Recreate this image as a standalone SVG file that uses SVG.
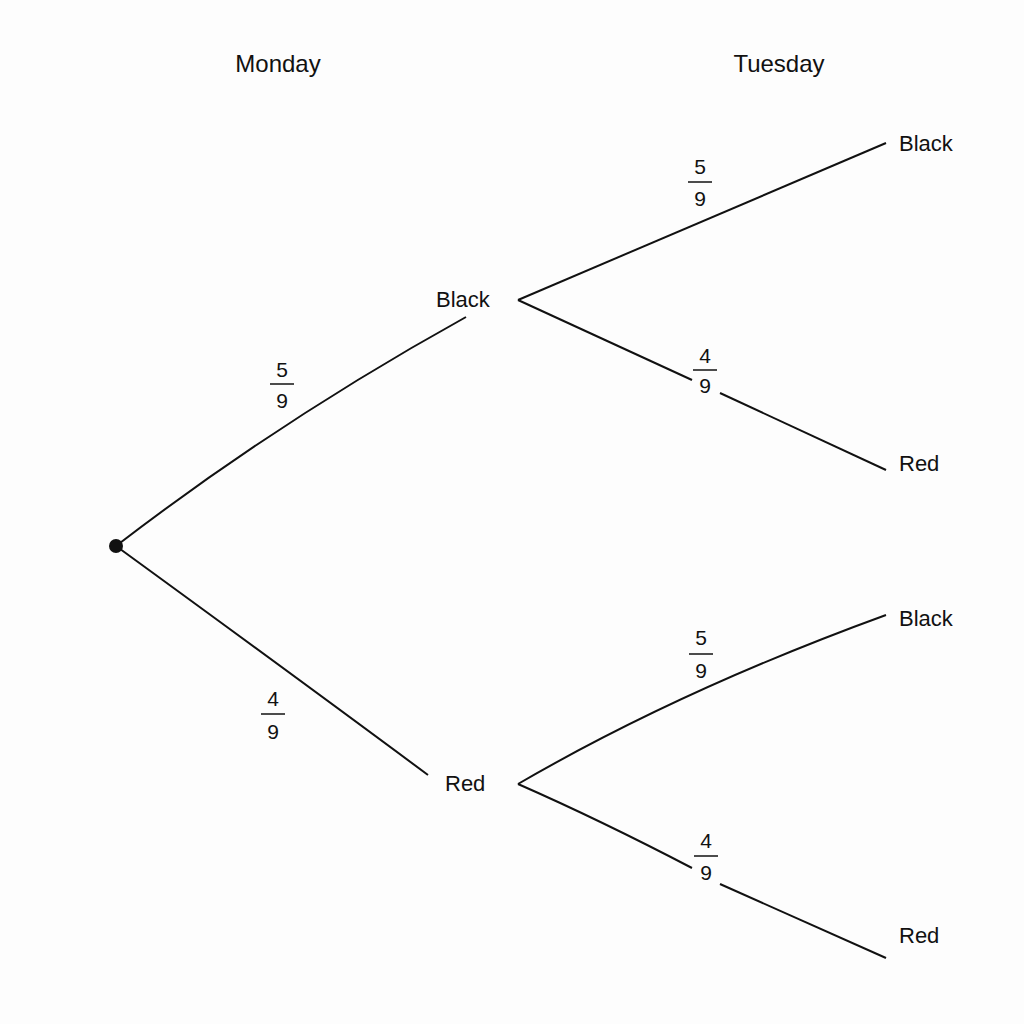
<svg xmlns="http://www.w3.org/2000/svg" width="1024" height="1024" viewBox="0 0 1024 1024">
<style>
text{font-family:"Liberation Sans",Arial,sans-serif;fill:#111;}
.h{font-size:24px;text-anchor:middle;}
.n{font-size:22px;}
.f{font-size:21px;text-anchor:middle;}
.e{fill:none;stroke:#111;stroke-width:2;}
.b{stroke:#111;stroke-width:1.5;}
</style>
<rect width="1024" height="1024" fill="#fdfdfd"/>
<text class="h" x="278" y="72">Monday</text>
<text class="h" x="779" y="72">Tuesday</text>
<g id="connectors">
<path class="e" d="M116,546 Q280,420 466,317"/>
<path class="e" d="M116,546 Q300,680 428,775"/>
<path class="e" d="M518,300 L886,143"/>
<path class="e" d="M518,300 L692,380"/>
<path class="e" d="M720,393 L886,470"/>
<path class="e" d="M518,784 Q680,690 886,615"/>
<path class="e" d="M518,784 Q600,820 692,868"/>
<path class="e" d="M720,884 Q800,920 886,958"/>
</g>
<g id="root"><circle cx="116" cy="546" r="7" fill="#111"/></g>
<g id="mon-black"><text class="n" x="436" y="307">Black</text></g>
<g id="mon-red"><text class="n" x="445" y="791">Red</text></g>
<g id="tue-bb"><text class="n" x="899" y="151">Black</text></g>
<g id="tue-br"><text class="n" x="899" y="471">Red</text></g>
<g id="tue-rb"><text class="n" x="899" y="626">Black</text></g>
<g id="tue-rr"><text class="n" x="899" y="943">Red</text></g>
<g id="fractions">
<text class="f" x="282" y="377">5</text><line class="b" x1="270" y1="384" x2="294" y2="384"/><text class="f" x="282" y="408">9</text>
<text class="f" x="273" y="706">4</text><line class="b" x1="261" y1="714" x2="285" y2="714"/><text class="f" x="273" y="739">9</text>
<text class="f" x="700" y="174">5</text><line class="b" x1="688" y1="182" x2="712" y2="182"/><text class="f" x="700" y="206">9</text>
<text class="f" x="705" y="363">4</text><line class="b" x1="693" y1="370" x2="717" y2="370"/><text class="f" x="705" y="393">9</text>
<text class="f" x="701" y="645">5</text><line class="b" x1="689" y1="654" x2="713" y2="654"/><text class="f" x="701" y="678">9</text>
<text class="f" x="706" y="848">4</text><line class="b" x1="694" y1="856" x2="718" y2="856"/><text class="f" x="706" y="880">9</text>
</g>
</svg>
